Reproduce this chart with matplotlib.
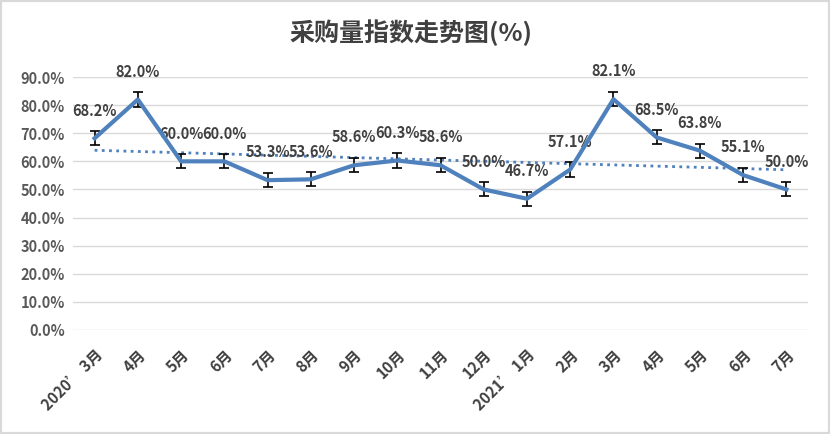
import matplotlib
matplotlib.use("Agg")
import matplotlib.pyplot as plt
from matplotlib.patches import Rectangle
import numpy as np

plt.rcParams['font.family'] = ['Noto Sans CJK SC', 'DejaVu Sans']

months = ["2020’ 3月", "4月", "5月", "6月", "7月", "8月", "9月", "10月", "11月",
          "12月", "2021’ 1月", "2月", "3月", "4月", "5月", "6月", "7月"]
values = [68.2, 82.0, 60.0, 60.0, 53.3, 53.6, 58.6, 60.3, 58.6,
          50.0, 46.7, 57.1, 82.1, 68.5, 63.8, 55.1, 50.0]
err = 2.5

blue = '#4f81bd'
text_c = '#404040'

fig = plt.figure(figsize=(8.30, 4.34), dpi=100)
ax = fig.add_axes([73 / 830, 1 - 330 / 434, 735 / 830, 253 / 434])

x = np.arange(len(values))
ax.errorbar(x, values, yerr=err, color=blue, lw=3, ecolor='black', elinewidth=1.2,
            capsize=3.5, capthick=1.2, zorder=3)

# linear trend line
k, b = np.polyfit(x, values, 1)
ax.plot(x, k * x + b, linestyle=(0, (1, 1.6)), color=blue, lw=2, zorder=2)

for xi, v in zip(x, values):
    ax.annotate(f"{v:.1f}%", (xi, v), xytext=(0, 20), textcoords='offset points',
                ha='center', va='center', fontsize=10.5, fontweight='bold', color=text_c)

ax.set_xlim(-0.5, len(values) - 0.5)
ax.set_ylim(0, 90)
yt = np.arange(0, 91, 10)
ax.set_yticks(yt)
ax.set_yticklabels([f"{t:.1f}%" for t in yt], fontsize=10.5, fontweight='bold', color='#595959')
ax.set_xticks(x)
ax.set_xticklabels(months, rotation=45, ha='right', rotation_mode='anchor',
                   fontsize=11, fontweight='bold', color=text_c)
ax.tick_params(axis='y', length=0, pad=6)
ax.tick_params(axis='x', length=0, pad=12)
ax.grid(axis='y', color='#d9d9d9', lw=1)
ax.set_axisbelow(True)
for s in ax.spines.values():
    s.set_visible(False)

fig.text(0.495, 1 - 33 / 434, "采购量指数走势图(%)", ha='center', va='center',
         fontsize=18, fontweight='bold', color=text_c)
fig.patches.append(Rectangle((0, 0), 1, 1, transform=fig.transFigure, fill=False,
                             edgecolor='#d9d9d9', lw=3))

fig.savefig("out.png", dpi=100)
